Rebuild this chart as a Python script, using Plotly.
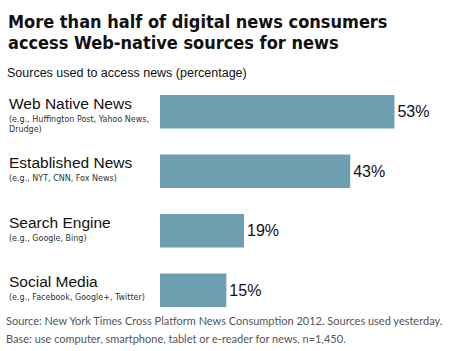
import plotly.graph_objects as go

categories = ["Web Native News", "Established News", "Search Engine", "Social Media"]
examples = ["(e.g., Huffington Post, Yahoo News,<br>Drudge)", "(e.g., NYT, CNN, Fox News)",
            "(e.g., Google, Bing)", "(e.g., Facebook, Google+, Twitter)"]
values = [53, 43, 19, 15]
value_labels = ["53%", "43%", "19%", "15%"]
title_lines = ["More than half of digital news consumers", "access Web-native sources for news"]
subtitle = "Sources used to access news (percentage)"
source_lines = ["Source: New York Times Cross Platform News Consumption 2012. Sources used yesterday.",
                "Base: use computer, smartphone, tablet or e-reader for news, n=1,450."]

BAR = "#6E9FB0"
L, T, W, H = 160, 82, 280, 238


def px(x):
    return (x - L) / W


def py(y):
    return 1 - (y - T) / H


fig = go.Figure(go.Bar(
    x=values, y=categories, orientation="h",
    marker=dict(color=BAR, line=dict(width=0)),
    width=0.56,
    text=value_labels, textposition="outside",
    textfont=dict(family="Liberation Sans, Arial", size=16, color="#111"),
    cliponaxis=False,
))

fig.update_layout(
    width=451, height=351,
    margin=dict(l=L, r=451 - L - W, t=T, b=351 - T - H),
    paper_bgcolor="white", plot_bgcolor="white",
    showlegend=False,
    xaxis=dict(range=[0, 63.3], visible=False),
    yaxis=dict(autorange="reversed", visible=False, type="category"),
    bargap=0.44,
)

anns = []
for line, yc in zip(title_lines, [21, 43]):
    anns.append(dict(text=line, xref="paper", yref="paper", x=px(6), y=py(yc),
                     xanchor="left", yanchor="middle", showarrow=False,
                     font=dict(family="DejaVu Sans Condensed, DejaVu Sans", size=18, color="#111",
                               weight="bold")))
anns.append(dict(text=subtitle, xref="paper", yref="paper", x=px(5), y=py(73),
                 xanchor="left", yanchor="middle", showarrow=False,
                 font=dict(family="Liberation Sans, Arial", size=12.5, color="#111")))
for c, e in zip(categories, examples):
    anns.append(dict(text=c, xref="paper", yref="y", x=px(7), y=c, xanchor="left", yanchor="bottom",
                     yshift=-2, showarrow=False,
                     font=dict(family="Liberation Sans, Arial", size=15.5, color="#111")))
    anns.append(dict(text=e, xref="paper", yref="y", x=px(7), y=c, xanchor="left", yanchor="top",
                     yshift=-1, align="left", showarrow=False,
                     font=dict(family="DejaVu Sans", size=8, color="#333")))
for line, yc in zip(source_lines, [320, 338]):
    anns.append(dict(text=line, xref="paper", yref="paper", x=px(4), y=py(yc),
                     xanchor="left", yanchor="middle", showarrow=False,
                     font=dict(family="Lato", size=11, color="#555")))
fig.update_layout(annotations=anns)

fig.write_html("out.html")
